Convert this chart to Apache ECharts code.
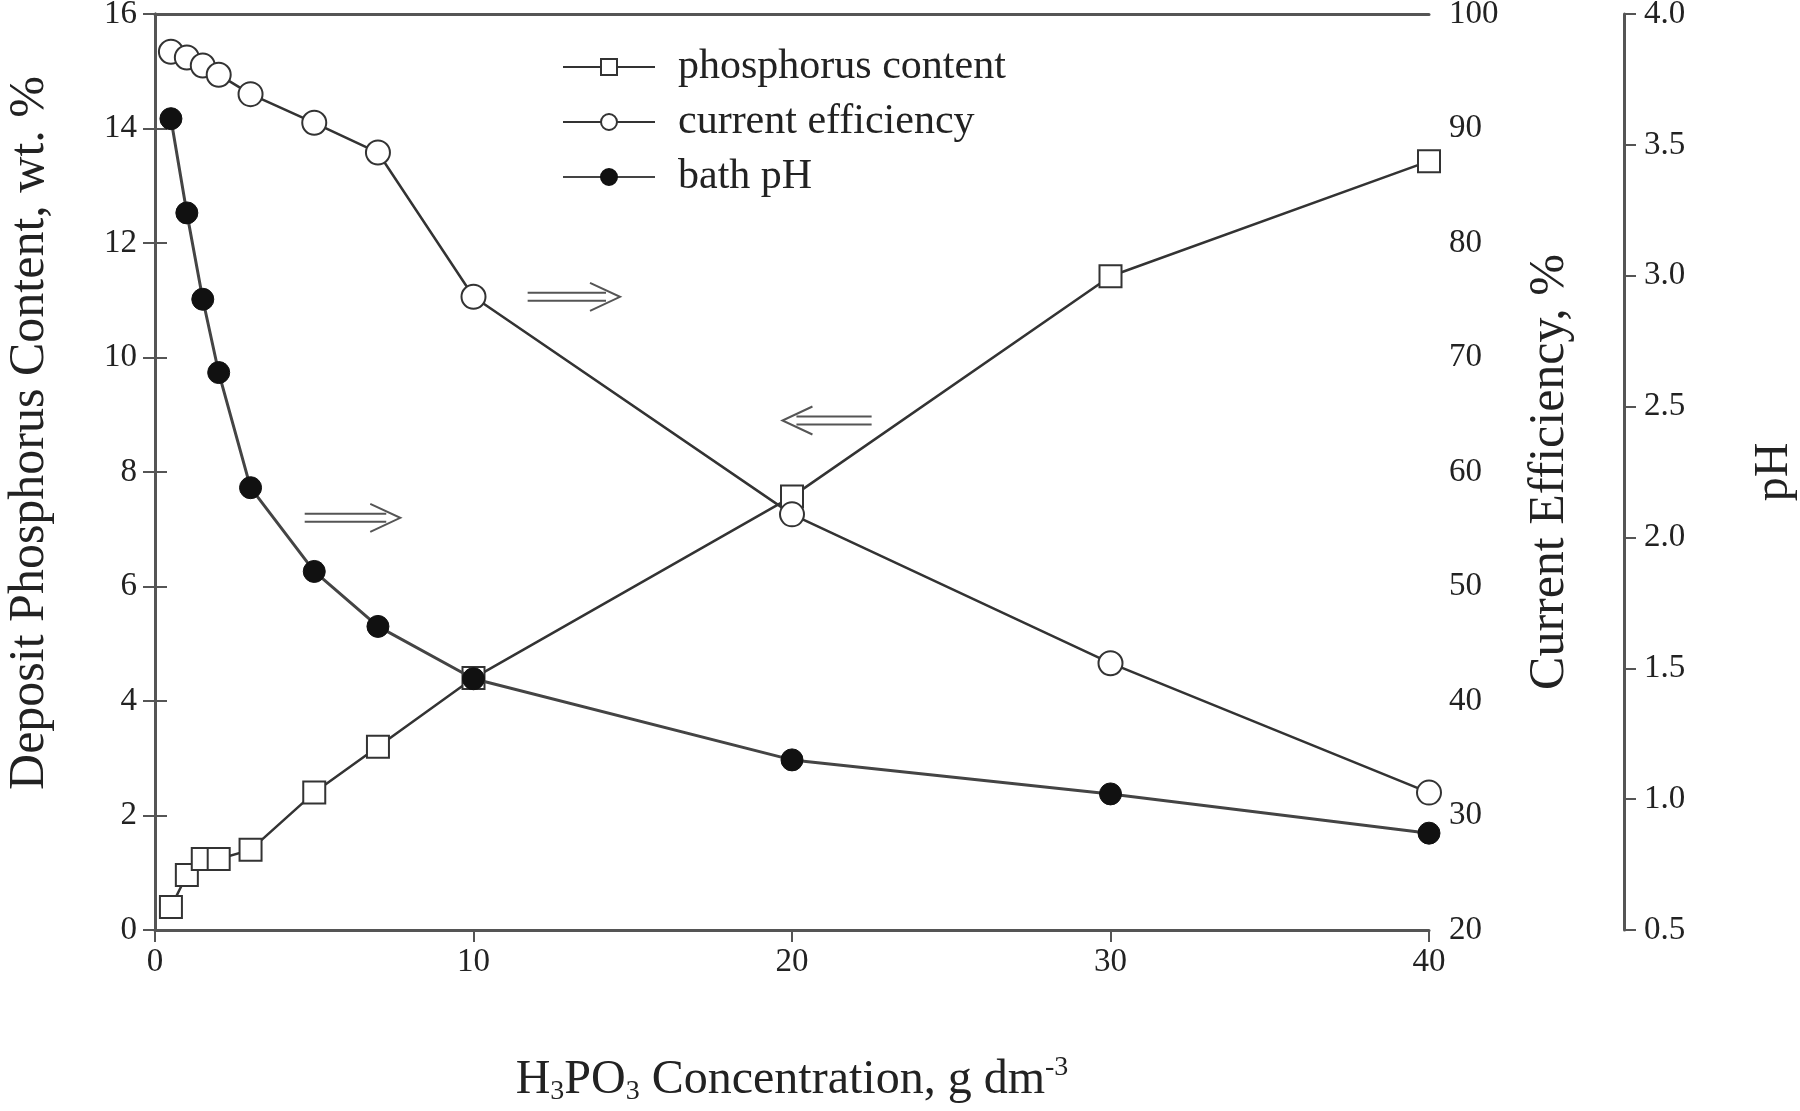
<!DOCTYPE html>
<html>
<head>
<meta charset="utf-8">
<title>H3PO3 concentration</title>
<script src="https://cdn.jsdelivr.net/npm/echarts@6.0.0/dist/echarts.min.js"></script>
<style>
	html, body { margin: 0; padding: 0; background: #fff; }
	#main { width: 1800px; height: 1111px; }
</style>
</head>
<body>
<div id="main"></div>
<script type="text/javascript">
	// H3PO3 concentration, g dm-3
	var conc = [0.5, 1, 1.5, 2, 3, 5, 7, 10, 20, 30, 40];
	// deposit phosphorus content, wt. %  (left axis)
	var phosContent = [0.4, 0.96, 1.24, 1.24, 1.4, 2.4, 3.2, 4.4, 7.57, 11.42, 13.43];
	// current efficiency, %  (first right axis)
	var currentEff = [96.7, 96.2, 95.5, 94.7, 93.0, 90.5, 87.9, 75.3, 56.3, 43.3, 32.0];
	// bath pH  (second right axis)
	var bathPH = [3.60, 3.24, 2.91, 2.63, 2.19, 1.87, 1.66, 1.46, 1.15, 1.02, 0.87];
	var seriesNames = ['phosphorus content', 'current efficiency', 'bath pH'];

	var font = 'Liberation Serif';
	var ink = '#222';

	function pairs(ys) {
		return conc.map(function (x, i) { return [x, ys[i]]; });
	}

	var axisLine = { show: true, lineStyle: { color: '#555', width: 3 } };
	var tick = { show: true, inside: false, length: 12, lineStyle: { color: '#555', width: 2 } };
	var label = { color: ink, fontFamily: font, fontSize: 33 };

	var option = {
		backgroundColor: '#fff',
		animation: false,
		// keep the plot box fixed, do not shrink it to fit the labels
		grid: { left: 155, right: 371, top: 14, bottom: 181, outerBoundsMode: 'none' },
		legend: {
			data: seriesNames,
			orient: 'vertical',
			left: 557,
			top: 41,
			itemWidth: 92,
			itemHeight: 20,
			itemGap: 13,
			textStyle: { color: ink, fontFamily: font, fontSize: 42, padding: [0, 0, 0, 18] }
		},
		xAxis: [{
			type: 'value',
			min: 0, max: 40, interval: 10,
			position: 'bottom',
			name: '{n|H}{s|3}{n|PO}{s|3}{n| Concentration, g dm}{u|-3}',
			nameLocation: 'middle',
			nameGap: 124,
			nameTextStyle: {
				rich: {
					n: { color: ink, fontFamily: font, fontSize: 48 },
					s: { color: ink, fontFamily: font, fontSize: 28, padding: [24, 0, 0, 0] },
					u: { color: ink, fontFamily: font, fontSize: 28, padding: [0, 0, 24, 0] }
				}
			},
			axisLine: axisLine,
			axisTick: tick,
			axisLabel: Object.assign({ margin: 16 }, label),
			splitLine: { show: false }
		}, {
			// top frame line only
			type: 'value',
			min: 0, max: 40,
			position: 'top',
			axisLine: axisLine,
			axisTick: { show: false },
			axisLabel: { show: false },
			splitLine: { show: false }
		}],
		yAxis: [{
			type: 'value',
			min: 0, max: 16, interval: 2,
			position: 'left',
			name: 'Deposit Phosphorus Content, wt. %',
			nameLocation: 'middle',
			nameRotate: 90,
			nameGap: 100,
			// text sits a little above the middle of the axis
			nameTextStyle: { color: ink, fontFamily: font, fontSize: 50, padding: [0, 0, 0, 78] },
			axisLine: axisLine,
			axisTick: tick,
			axisLabel: Object.assign({ margin: 18 }, label),
			splitLine: { show: false }
		}, {
			type: 'value',
			min: 20, max: 100, interval: 10,
			position: 'right',
			name: 'Current Efficiency, %',
			nameLocation: 'middle',
			nameRotate: 90,
			nameGap: 96,
			nameTextStyle: { color: ink, fontFamily: font, fontSize: 50 },
			axisLine: axisLine,
			axisTick: tick,
			axisLabel: Object.assign({ margin: 20 }, label),
			splitLine: { show: false }
		}, {
			type: 'value',
			min: 0.5, max: 4, interval: 0.5,
			position: 'right',
			offset: 195,
			name: 'pH',
			nameLocation: 'middle',
			nameRotate: 90,
			nameGap: 126,
			nameTextStyle: { color: ink, fontFamily: font, fontSize: 48 },
			axisLine: axisLine,
			axisTick: tick,
			axisLabel: Object.assign({
				margin: 20,
				formatter: function (v) { return v.toFixed(1); }
			}, label),
			splitLine: { show: false }
		}],
		series: [{
			name: seriesNames[0],
			type: 'line',
			yAxisIndex: 0,
			data: pairs(phosContent),
			symbol: 'rect',
			symbolSize: 22,
			lineStyle: { color: '#333', width: 2.5 },
			itemStyle: { color: '#fff', borderColor: '#333', borderWidth: 2 },
			z: 3
		}, {
			name: seriesNames[1],
			type: 'line',
			yAxisIndex: 1,
			data: pairs(currentEff),
			symbol: 'circle',
			symbolSize: 24,
			lineStyle: { color: '#333', width: 2.5 },
			itemStyle: { color: '#fff', borderColor: '#333', borderWidth: 2 },
			z: 3
		}, {
			name: seriesNames[2],
			type: 'line',
			yAxisIndex: 2,
			data: pairs(bathPH),
			symbol: 'circle',
			symbolSize: 22,
			lineStyle: { color: '#444', width: 3 },
			itemStyle: { color: '#111', borderColor: '#111', borderWidth: 1 },
			z: 4
		}]
	};

	var myChart = echarts.init(document.getElementById('main'), null, { renderer: 'canvas' });
	myChart.setOption(option);

	// hollow double arrows pointing at the axis each curve belongs to
	// [x start, x end, y on left axis, direction]
	var arrowStart = [11.7, 4.7, 19.7];
	var arrowEnd = [14.6, 7.7, 22.5];
	var arrowLevel = [11.06, 7.2, 8.9];
	var arrowDir = [1, 1, -1];

	var arrows = [];
	for (var i = 0; i < arrowStart.length; i++) {
		var a = myChart.convertToPixel({ xAxisIndex: 0, yAxisIndex: 0 }, [arrowStart[i], arrowLevel[i]]);
		var b = myChart.convertToPixel({ xAxisIndex: 0, yAxisIndex: 0 }, [arrowEnd[i], arrowLevel[i]]);
		var tip = arrowDir[i] > 0 ? b[0] : a[0];
		var tail = arrowDir[i] > 0 ? a[0] : b[0];
		var d = arrowDir[i];
		var y = a[1];
		var style = { stroke: '#555', lineWidth: 2, fill: null };
		arrows.push({ type: 'polyline', shape: { points: [[tail, y - 4], [tip - d * 14, y - 4]] }, style: style });
		arrows.push({ type: 'polyline', shape: { points: [[tail, y + 4], [tip - d * 14, y + 4]] }, style: style });
		arrows.push({ type: 'polyline', shape: { points: [[tip - d * 30, y - 14], [tip, y], [tip - d * 30, y + 14]] }, style: style });
	}
	myChart.setOption({ graphic: arrows });
</script>
</body>
</html>
